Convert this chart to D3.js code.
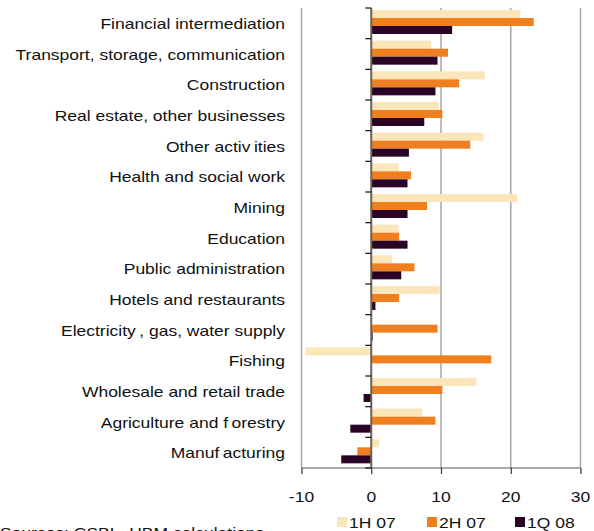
<!DOCTYPE html>
<html>
<head>
<meta charset="utf-8">
<script src="https://cdn.jsdelivr.net/npm/d3@7"></script>
<style>
body{margin:0;background:#fff;}
svg{display:block;font-family:"Liberation Sans",Arial,sans-serif;}
</style>
</head>
<body>
<svg id="chart" width="594" height="531"></svg>
<script>
const categories = ["Financial intermediation","Transport, storage, communication","Construction","Real estate, other businesses","Other activ\u2009ities","Health and social work","Mining","Education","Public administration","Hotels and restaurants","Electricity\u2009, gas, water supply","Fishing","Wholesale and retail trade","Agriculture and f\u2009orestry","Manuf\u2009acturing"];
const seriesNames = ["1H 07","2H 07","1Q 08"];
const values1H07 = [21.4, 8.6, 16.3, 9.7, 16.1, 3.9, 20.9, 3.9, 3.0, 9.8, 0, -9.4, 15.1, 7.3, 1.1];
const values2H07 = [23.3, 11.0, 12.6, 10.2, 14.2, 5.7, 8.0, 4.0, 6.2, 4.0, 9.5, 17.2, 10.2, 9.2, -2.0];
const values1Q08 = [11.6, 9.5, 9.2, 7.6, 5.4, 5.2, 5.2, 5.2, 4.3, 0.6, 0.2, 0, -1.1, -3.0, -4.3];
const xTicks = [-10, 0, 10, 20, 30];
const colors = ["#FCE5B8", "#EF7F1F", "#2A0427"];
const sourceText = "Sources: CSBL, HBM calculations";

const series = [values1H07, values2H07, values1Q08];
const svg = d3.select("#chart");
const SX = 1.25; // horizontal text stretch

const x = d3.scaleLinear().domain([-10, 30]).range([301.5, 580.5]);
const y = d3.scaleBand().domain(categories).range([8, 468]);
const yInner = d3.scaleBand().domain(seriesNames).range([2, 26]);

// gridlines
svg.append("g").selectAll("line").data(xTicks.filter(t => t !== 0)).join("line")
  .attr("x1", d => x(d)).attr("x2", d => x(d))
  .attr("y1", 8).attr("y2", 468)
  .attr("stroke", "#a6a6a6").attr("stroke-width", 1.5);

// bars
const g = svg.append("g");
categories.forEach((c, i) => {
  seriesNames.forEach((s, j) => {
    const v = series[j][i];
    if (v === 0) return;
    g.append("rect")
      .attr("x", x(Math.min(0, v)))
      .attr("width", Math.abs(x(v) - x(0)))
      .attr("y", y(c) + yInner(s))
      .attr("height", yInner.bandwidth())
      .attr("fill", colors[j]);
  });
});

// bottom axis
const xAxis = d3.axisBottom(x).tickValues(xTicks).tickSize(6).tickFormat(d3.format("d"));
const ax = svg.append("g").attr("transform", "translate(0,468)").call(xAxis);
ax.select(".domain").attr("stroke", "#555").attr("stroke-width", 1.2).attr("d", `M${x(-10)},0H${x(30)}`);
ax.selectAll(".tick line").attr("stroke", "#333").attr("stroke-width", 1.2);
ax.selectAll(".tick text").remove();
svg.append("g").selectAll("text").data(xTicks).join("text")
  .attr("transform", d => `translate(${x(d)},${502}) scale(${SX},1)`)
  .attr("text-anchor", "middle").attr("font-size", 14).attr("fill", "#111")
  .text(d => d);

// zero axis with category ticks
const yAxis = d3.axisLeft(y).tickSize(0).tickFormat("");
const ay = svg.append("g").attr("transform", `translate(${x(0)},0)`).call(yAxis);
ay.select(".domain").attr("stroke", "#6b6358").attr("stroke-width", 2).attr("d", "M0,8V468");
const bounds = categories.map(c => y(c)).concat([468]);
svg.append("g").selectAll("line").data(bounds).join("line")
  .attr("x1", x(0) - 6).attr("x2", x(0))
  .attr("y1", d => d).attr("y2", d => d)
  .attr("stroke", "#111").attr("stroke-width", 1.2);

// category labels
svg.append("g").selectAll("text").data(categories).join("text")
  .attr("transform", d => `translate(285,${y(d) + y.bandwidth() / 2 + 5.5}) scale(${SX},1)`)
  .attr("text-anchor", "end").attr("font-size", 14).attr("fill", "#111")
  .text(d => d);

// legend
const legendX = [337, 427, 515];
const lg = svg.append("g");
seriesNames.forEach((s, j) => {
  lg.append("rect").attr("x", legendX[j]).attr("y", 517).attr("width", 10).attr("height", 10).attr("fill", colors[j]);
  lg.append("text").attr("transform", `translate(${legendX[j] + 12},528) scale(${SX},1)`)
    .attr("font-size", 14).attr("fill", "#111").text(s);
});

// source
svg.append("text").attr("transform", `translate(0,538) scale(${SX},1)`)
  .attr("font-size", 14).attr("fill", "#111").text(sourceText);
</script>
</body>
</html>
